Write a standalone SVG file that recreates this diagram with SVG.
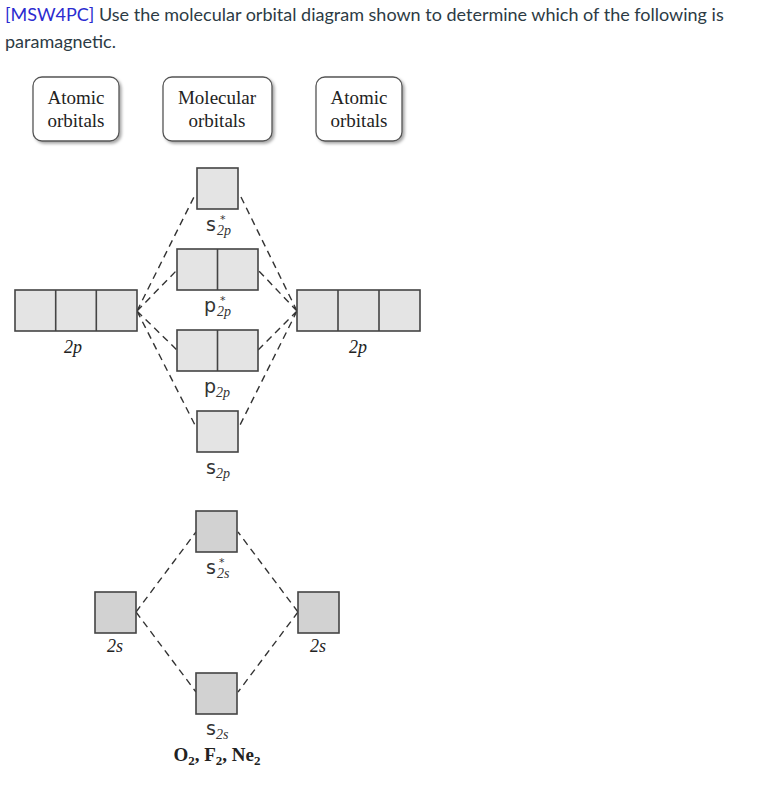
<svg xmlns="http://www.w3.org/2000/svg" width="760" height="796" viewBox="0 0 760 796">
<defs>
<filter id="sh" x="-20%" y="-20%" width="150%" height="150%">
<feDropShadow dx="2" dy="2" stdDeviation="1.5" flood-color="#000" flood-opacity="0.35"/>
</filter>
</defs>
<style>
.title{font-family:Lato,"Liberation Sans",sans-serif;font-size:18px;fill:#2d3b45}
.tag{fill:#2b2bd0}
.hdr{fill:#fff;stroke:#555;stroke-width:1.3}
.ht{font-family:"Liberation Serif",serif;font-size:19px;fill:#222;text-anchor:middle}
.ob{fill:#e4e4e4;stroke:#444;stroke-width:1.6}
.ob2{fill:#d2d2d2;stroke:#444;stroke-width:1.6}
.dl{fill:none;stroke:#333;stroke-width:1.4;stroke-dasharray:7,5}
.sym{font-family:"DejaVu Sans",sans-serif;font-size:19px;fill:#333}
.sub{font-family:"Liberation Serif",serif;font-style:italic;font-size:14px;fill:#333}
.star{font-family:"DejaVu Sans",sans-serif;font-size:11px;fill:#333}
.lab{font-family:"Liberation Serif",serif;font-style:italic;font-size:18px;fill:#222;text-anchor:middle}
.mol{font-family:"Liberation Serif",serif;font-weight:bold;font-size:19px;fill:#222;text-anchor:middle}
</style>
<rect width="760" height="796" fill="#fff"/>
<g id="title">
<text class="title" x="5" y="21"><tspan class="tag">[MSW4PC]</tspan> Use the molecular orbital diagram shown to determine which of the following is</text>
<text class="title" x="5" y="48">paramagnetic.</text>
</g>
<g id="hdr-left"><rect class="hdr" filter="url(#sh)" x="33" y="77" width="86" height="64" rx="9"/><text class="ht" x="76" y="104">Atomic</text><text class="ht" x="76" y="127">orbitals</text></g>
<g id="hdr-mid"><rect class="hdr" filter="url(#sh)" x="163" y="77" width="109" height="64" rx="9"/><text class="ht" x="217" y="104">Molecular</text><text class="ht" x="217" y="127">orbitals</text></g>
<g id="hdr-right"><rect class="hdr" filter="url(#sh)" x="316" y="77" width="86" height="64" rx="9"/><text class="ht" x="359" y="104">Atomic</text><text class="ht" x="359" y="127">orbitals</text></g>
<g id="connectors">
<path class="dl" d="M137,311 L196,193 M137,311 L177,270 M137,311 L177,350 M137,311 L196,427"/>
<path class="dl" d="M297,311 L239,193 M297,311 L258,270 M297,311 L258,350 M297,311 L239,427"/>
<path class="dl" d="M136,612 L196,532 M136,612 L196,692 M298,612 L238,532 M298,612 L238,692"/>
</g>
<g id="left-2p"><rect class="ob" x="15" y="290" width="122" height="41"/><path class="ob" d="M55.7,290 V331 M96.3,290 V331"/><text class="lab" x="73" y="353">2p</text></g>
<g id="right-2p"><rect class="ob" x="297" y="290" width="123" height="41"/><path class="ob" d="M338,290 V331 M379,290 V331"/><text class="lab" x="358" y="353">2p</text></g>
<g id="sigma-star-2p"><rect class="ob" x="197" y="168" width="41" height="41"/><text x="206" y="231"><tspan class="sym">s</tspan><tspan class="star" x="220" y="223">*</tspan><tspan class="sub" x="217" y="235">2p</tspan></text></g>
<g id="pi-star-2p"><rect class="ob" x="177" y="249" width="81" height="41"/><path class="ob" d="M217.5,249 V290"/><text x="204" y="312"><tspan class="sym">p</tspan><tspan class="star" x="220" y="304">*</tspan><tspan class="sub" x="217" y="316">2p</tspan></text></g>
<g id="pi-2p"><rect class="ob" x="177" y="330" width="81" height="41"/><path class="ob" d="M217.5,330 V371"/><text x="204" y="393"><tspan class="sym">p</tspan><tspan class="sub" dy="4">2p</tspan></text></g>
<g id="sigma-2p"><rect class="ob" x="197" y="411" width="41" height="41"/><text x="206" y="474"><tspan class="sym">s</tspan><tspan class="sub" dy="4">2p</tspan></text></g>
<g id="sigma-star-2s"><rect class="ob2" x="196" y="511" width="41" height="41"/><text x="206" y="574"><tspan class="sym">s</tspan><tspan class="star" x="219" y="566">*</tspan><tspan class="sub" x="217" y="578">2s</tspan></text></g>
<g id="left-2s"><rect class="ob2" x="95" y="592" width="41" height="41"/><text class="lab" x="115" y="652">2s</text></g>
<g id="right-2s"><rect class="ob2" x="298" y="592" width="41" height="41"/><text class="lab" x="318" y="652">2s</text></g>
<g id="sigma-2s"><rect class="ob2" x="196" y="673" width="41" height="41"/><text x="206" y="735"><tspan class="sym">s</tspan><tspan class="sub" dy="4">2s</tspan></text></g>
<g id="molecules"><text class="mol" x="217" y="761">O<tspan font-size="13" dy="4">2</tspan><tspan dy="-4">, F</tspan><tspan font-size="13" dy="4">2</tspan><tspan dy="-4">, Ne</tspan><tspan font-size="13" dy="4">2</tspan></text></g>
</svg>
